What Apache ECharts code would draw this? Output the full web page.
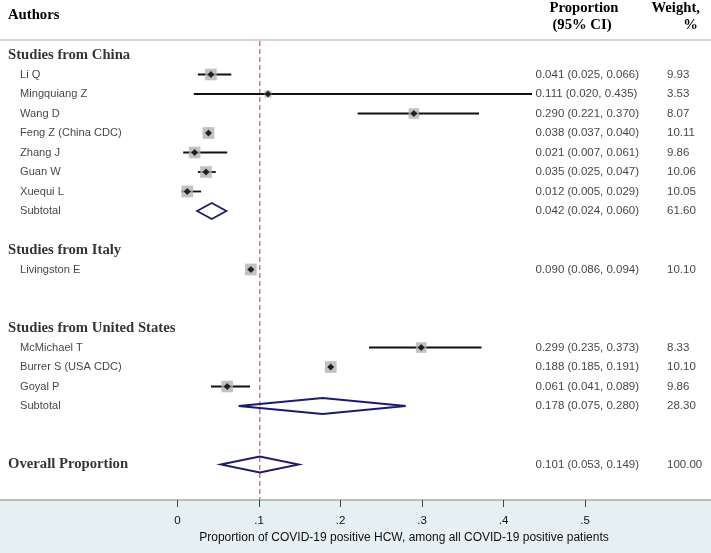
<!DOCTYPE html>
<html>
<head>
<meta charset="utf-8">
<script src="https://cdn.jsdelivr.net/npm/echarts@6/dist/echarts.min.js"></script>
<style>
html,body{margin:0;padding:0;background:#fff;}
#main{width:711px;height:553px;}
</style>
</head>
<body>
<div id="main"></div>
<script>
// ---- data ----
const rowLabels = ['Studies from China','Li Q','Mingquiang Z','Wang D','Feng Z (China CDC)','Zhang J','Guan W','Xuequi L','Subtotal','','Studies from Italy','Livingston E','','','Studies from United States','McMichael T','Burrer S (USA CDC)','Goyal P','Subtotal','','','Overall Proportion'];
const rowKind = ['group','study','study','study','study','study','study','study','pooled','blank','group','study','blank','blank','group','study','study','study','pooled','blank','blank','overall'];
const estimates = [null,0.041,0.111,0.290,0.038,0.021,0.035,0.012,0.042,null,null,0.090,null,null,null,0.299,0.188,0.061,0.178,null,null,0.101];
const lowerCI  = [null,0.025,0.020,0.221,0.037,0.007,0.025,0.005,0.024,null,null,0.086,null,null,null,0.235,0.185,0.041,0.075,null,null,0.053];
const upperCI  = [null,0.066,0.435,0.370,0.040,0.061,0.047,0.029,0.060,null,null,0.094,null,null,null,0.373,0.191,0.089,0.280,null,null,0.149];
const weights  = [null,9.93,3.53,8.07,10.11,9.86,10.06,10.05,61.60,null,null,10.10,null,null,null,8.33,10.10,9.86,28.30,null,null,100.00];
const xTicks = [0,0.1,0.2,0.3,0.4,0.5];
const xTickLabels = ['0','.1','.2','.3','.4','.5'];
const refValue = 0.101;
const headerAuthors = 'Authors';
const headerProp = ['Proportion','(95% CI)'];
const headerWeight = ['Weight,','%'];
const xTitle = 'Proportion of COVID-19 positive HCW, among all COVID-19 positive patients';

// ---- layout ----
const W = 711, H = 553;
const PX_PER_UNIT = 815;      // pixels per 1.0 on x
const X0_PX = 177.5;          // pixel of x = 0
const XMIN = -X0_PX / PX_PER_UNIT;
const XMAX = (W - X0_PX) / PX_PER_UNIT;
const PLOT_BOTTOM = 500;
const ROW_PX = 19.5, ROW0_PX = 55;
const YMIN = -ROW0_PX / ROW_PX;
const YMAX = YMIN + PLOT_BOTTOM / ROW_PX;
const colX = px => XMIN + px / PX_PER_UNIT;

const serif = '"Liberation Serif","Times New Roman",serif';
const sans = '"Liberation Sans",Arial,sans-serif';

const ciData = [], boxData = [], pointData = [], diamondData = [], textLeft = [], textCI = [], textW = [];
rowLabels.forEach((lab, i) => {
  const k = rowKind[i];
  if (k === 'study') {
    ciData.push([estimates[i], i, lowerCI[i], upperCI[i]]);
    boxData.push({value:[estimates[i], i], symbolSize: 3.7*Math.sqrt(weights[i])});
    pointData.push([estimates[i], i]);
  }
  if (k === 'pooled' || k === 'overall') {
    diamondData.push([estimates[i], i, lowerCI[i], upperCI[i]]);
  }
  if (lab) {
    const bold = (k === 'group' || k === 'overall');
    textLeft.push({value:[colX(bold ? 8 : 20), i], label:{
      formatter: lab,
      fontFamily: bold ? serif : sans,
      fontWeight: bold ? 'bold' : 'normal',
      fontSize: bold ? 14.7 : 11.1,
      color: bold ? '#000' : '#111'
    }});
  }
  if (estimates[i] != null) {
    textCI.push({value:[colX(535.5), i], label:{formatter: estimates[i].toFixed(3)+' ('+lowerCI[i].toFixed(3)+', '+upperCI[i].toFixed(3)+')'}});
    textW.push({value:[colX(667), i], label:{formatter: weights[i].toFixed(2)}});
  }
});

const textLabel = {show:true, position:'inside', align:'left', verticalAlign:'middle', fontFamily:sans, fontSize:11.5, color:'#111'};

const chart = echarts.init(document.getElementById('main'), null, {renderer:'canvas'});
chart.setOption({
  animation:false,
  backgroundColor:'#e6eff2',
  grid:{left:0, right:0, top:0, bottom:H-PLOT_BOTTOM, show:true, backgroundColor:'#ffffff', borderWidth:0},
  xAxis:{
    type:'value', min:XMIN, max:XMAX,
    splitLine:{show:false},
    axisLine:{show:true, onZero:false, lineStyle:{color:'#a9a9a9', width:1.5}},
    axisTick:{show:true, customValues:xTicks, length:7, lineStyle:{color:'#444', width:1}},
    axisLabel:{show:true, customValues:xTicks, margin:15, fontFamily:sans, fontSize:11.5, color:'#111',
      formatter: v => { const idx = xTicks.findIndex(t => Math.abs(t-v) < 1e-9); return idx >= 0 ? xTickLabels[idx] : ''; }},
    name:xTitle, nameLocation:'middle', nameGap:31,
    nameTextStyle:{fontFamily:sans, fontSize:12, color:'#111', padding:[0,0,0,97]}
  },
  yAxis:{type:'value', inverse:true, min:YMIN, max:YMAX, show:false},
  graphic:[
    {type:'line', shape:{x1:0,y1:40,x2:W,y2:40}, style:{stroke:'#c8c8c8', lineWidth:1.5}, z:10},
    {type:'text', left:8, top:8, style:{text:headerAuthors, font:'bold 14.7px '+serif, fill:'#000'}},
    {type:'text', x:584, y:8, style:{text:headerProp[0], font:'bold 14.7px '+serif, fill:'#000', align:'center', verticalAlign:'middle'}},
    {type:'text', x:582, y:25, style:{text:headerProp[1], font:'bold 14.7px '+serif, fill:'#000', align:'center', verticalAlign:'middle'}},
    {type:'text', x:700, y:8, style:{text:headerWeight[0], font:'bold 14.7px '+serif, fill:'#000', align:'right', verticalAlign:'middle'}},
    {type:'text', x:698, y:25, style:{text:headerWeight[1], font:'bold 14.7px '+serif, fill:'#000', align:'right', verticalAlign:'middle'}}
  ],
  series:[
    {type:'line', data:[[refValue, YMIN + 41/ROW_PX],[refValue, YMAX]], symbol:'none', z:1,
      lineStyle:{color:'#c25c70', width:1.2, type:[5,3]}},
    {type:'custom', z:2, data:ciData, encode:{x:0,y:1},
      renderItem:(params, api) => {
        const a = api.coord([api.value(2), api.value(1)]);
        const b = api.coord([api.value(3), api.value(1)]);
        return {type:'line', shape:{x1:a[0],y1:a[1],x2:b[0],y2:b[1]}, style:{stroke:'#111', lineWidth:1.8}};
      }},
    {type:'scatter', z:3, data:boxData, symbol:'rect', itemStyle:{color:'#b3b3b3'}},
    {type:'scatter', z:4, data:pointData, symbol:'diamond', symbolSize:7, itemStyle:{color:'#000'}},
    {type:'custom', z:5, data:diamondData, encode:{x:0,y:1},
      renderItem:(params, api) => {
        const c = api.coord([api.value(0), api.value(1)]);
        const l = api.coord([api.value(2), api.value(1)]);
        const r = api.coord([api.value(3), api.value(1)]);
        const h = 8;
        return {type:'polygon', shape:{points:[[l[0],l[1]],[c[0],c[1]-h],[r[0],r[1]],[c[0],c[1]+h]]},
          style:{fill:'none', stroke:'#1c1c6e', lineWidth:1.8}};
      }},
    {type:'scatter', z:6, data:textLeft, symbolSize:0, label:textLabel, silent:true},
    {type:'scatter', z:6, data:textCI, symbolSize:0, label:textLabel, silent:true},
    {type:'scatter', z:6, data:textW, symbolSize:0, label:textLabel, silent:true}
  ]
});
</script>
</body>
</html>
